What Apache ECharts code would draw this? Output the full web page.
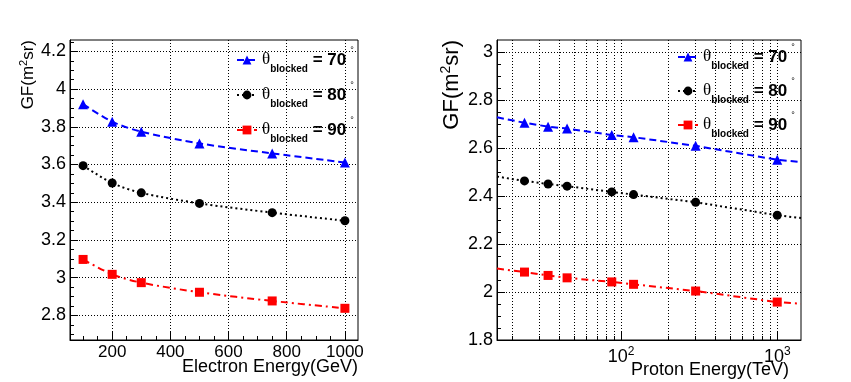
<!DOCTYPE html>
<html>
<head>
<meta charset="utf-8">
<script src="https://cdn.jsdelivr.net/npm/echarts@6/dist/echarts.min.js"></script>
<style>
  html, body { margin: 0; padding: 0; background: #fff; }
  #chart { width: 851px; height: 382px; }
</style>
</head>
<body>
<div id="chart"></div>
<script>
// ---- data ----
var blockNames = ['70', '80', '90'];

var electronEnergy = [100, 200, 300, 500, 750, 1000];
var electron70 = [3.92, 3.827, 3.774, 3.712, 3.659, 3.611];
var electron80 = [3.594, 3.502, 3.45, 3.394, 3.345, 3.302];
var electron90 = [3.097, 3.018, 2.974, 2.923, 2.877, 2.838];

var protonEnergy = [24, 34, 45, 87, 120, 300, 1000];
var proton70 = [2.705, 2.689, 2.681, 2.654, 2.645, 2.609, 2.551];
var proton80 = [2.463, 2.45, 2.441, 2.417, 2.406, 2.374, 2.32];
var proton90 = [2.083, 2.069, 2.059, 2.042, 2.032, 2.004, 1.958];
// fit lines run on to the frame edges
var protonFitX = [16, 1420];
var proton70Ends = [2.728, 2.541];
var proton80Ends = [2.481, 2.308];
var proton90Ends = [2.098, 1.951];

// ---- ticks ----
var elecXMajor = [200, 400, 600, 800, 1000];
var elecXMinor = [100, 150, 250, 300, 350, 450, 500, 550, 650, 700, 750, 850, 900, 950];
var elecYMajor = [2.8, 3, 3.2, 3.4, 3.6, 3.8, 4, 4.2];
var elecYMinor = [2.7, 2.75, 2.85, 2.9, 2.95, 3.05, 3.1, 3.15, 3.25, 3.3, 3.35, 3.45, 3.5, 3.55,
                  3.65, 3.7, 3.75, 3.85, 3.9, 3.95, 4.05, 4.1, 4.15, 4.25];
var protXMajor = [100, 1000];
var protXAll = [20, 30, 40, 50, 60, 70, 80, 90, 100, 200, 300, 400, 500, 600, 700, 800, 900, 1000];
var protYMajor = [1.8, 2, 2.2, 2.4, 2.6, 2.8, 3];
var protYMinor = [1.85, 1.9, 1.95, 2.05, 2.1, 2.15, 2.25, 2.3, 2.35, 2.45, 2.5, 2.55,
                  2.65, 2.7, 2.75, 2.85, 2.9, 2.95];

var FONT = 'Liberation Sans';
var colors = ['#0000ff', '#000000', '#ff0000'];
var symbols = ['triangle', 'circle', 'rect'];
var dashes = [[7, 4], [2, 3], [7, 4, 2, 4]];

var chart = echarts.init(document.getElementById('chart'));

function pairs(xs, ys) {
  return xs.map(function (x, i) { return [x, ys[i]]; });
}
function withEnds(xs, ys, ends) {
  var d = pairs(xs, ys);
  d.unshift({ value: [protonFitX[0], ends[0]], symbol: 'none' });
  d.push({ value: [protonFitX[1], ends[1]], symbol: 'none' });
  return d;
}
function plain(v) { return String(v); }

var dotted = { show: true, lineStyle: { color: '#000', width: 1, type: [1, 2] } };
var blackLine = { show: true, lineStyle: { color: '#000', width: 1 } };

function label(size, ticks) {
  return { color: '#000', fontFamily: FONT, fontSize: size, margin: 4, customValues: ticks, formatter: plain };
}
function tick(len, ticks) {
  return { inside: true, length: len, lineStyle: { color: '#000' }, customValues: ticks };
}
function majorAxis(extra) {
  return Object.assign({ axisLine: blackLine, splitLine: dotted }, extra);
}
function minorAxis(extra) {
  return Object.assign({
    axisLine: { show: false },
    splitLine: { show: false },
    axisLabel: { show: false }
  }, extra);
}

var legendRich = {
  t: { fontFamily: 'Liberation Serif', fontSize: 17, color: '#000', lineHeight: 28 },
  s: { fontFamily: FONT, fontWeight: 'bold', fontSize: 10, color: '#000', verticalAlign: 'bottom', lineHeight: 28 },
  e: { fontFamily: FONT, fontWeight: 'bold', fontSize: 17, color: '#000', lineHeight: 28 },
  d: { fontFamily: FONT, fontSize: 9, color: '#000', verticalAlign: 'top', lineHeight: 28, padding: [0, 0, 0, 4] }
};
function legendText(name) {
  return '{t|θ}{s|blocked}{e| = ' + name + '}{d|°}';
}

var seriesList = [];
[electron70, electron80, electron90].forEach(function (ys, i) {
  seriesList.push({
    name: blockNames[i], type: 'line', xAxisIndex: 0, yAxisIndex: 0,
    data: pairs(electronEnergy, ys), smooth: 0.3,
    symbol: symbols[i], symbolSize: i === 0 ? 10 : 9,
    itemStyle: { color: colors[i] },
    lineStyle: { color: colors[i], width: 2, type: dashes[i] }
  });
});
[[proton70, proton70Ends], [proton80, proton80Ends], [proton90, proton90Ends]].forEach(function (p, i) {
  seriesList.push({
    name: blockNames[i], type: 'line', xAxisIndex: 2, yAxisIndex: 2,
    data: withEnds(protonEnergy, p[0], p[1]),
    symbol: symbols[i], symbolSize: i === 0 ? 10 : 9,
    itemStyle: { color: colors[i] },
    lineStyle: { color: colors[i], width: 2, type: dashes[i] }
  });
});

chart.setOption({
  animation: false,
  backgroundColor: '#fff',
  grid: [
    { left: 70, top: 40, width: 288, height: 300, show: true, borderColor: '#000', borderWidth: 1, containLabel: false },
    { left: 497, top: 40, width: 304, height: 300, show: true, borderColor: '#000', borderWidth: 1, containLabel: false }
  ],
  xAxis: [
    majorAxis({
      type: 'value', gridIndex: 0, position: 'bottom', min: 55, max: 1045,
      axisTick: tick(8, elecXMajor),
      axisLabel: label(17, elecXMajor)
    }),
    minorAxis({
      type: 'value', gridIndex: 0, position: 'bottom', min: 55, max: 1045,
      axisTick: tick(4, elecXMinor)
    }),
    majorAxis({
      type: 'log', logBase: 10, gridIndex: 1, position: 'bottom', min: protonFitX[0], max: protonFitX[1],
      axisTick: tick(4, protXAll),
      axisLabel: {
        color: '#000', fontFamily: FONT, margin: 6, customValues: protXMajor,
        formatter: function (v) { return '{b|10}{p|' + Math.round(Math.log10(v)) + '}'; },
        rich: {
          b: { fontFamily: FONT, fontSize: 18, color: '#000', lineHeight: 22 },
          p: { fontFamily: FONT, fontSize: 12, color: '#000', verticalAlign: 'top', lineHeight: 22 }
        }
      }
    }),
    minorAxis({
      type: 'log', logBase: 10, gridIndex: 1, position: 'bottom', min: protonFitX[0], max: protonFitX[1],
      axisTick: tick(8, protXMajor)
    })
  ],
  yAxis: [
    majorAxis({
      type: 'value', gridIndex: 0, position: 'left', min: 2.67, max: 4.26,
      axisTick: tick(8, elecYMajor),
      axisLabel: label(18, elecYMajor)
    }),
    minorAxis({
      type: 'value', gridIndex: 0, position: 'left', min: 2.67, max: 4.26,
      axisTick: tick(4, elecYMinor)
    }),
    majorAxis({
      type: 'value', gridIndex: 1, position: 'left', min: 1.8, max: 3.05,
      axisTick: tick(8, protYMajor),
      axisLabel: label(18, protYMajor)
    }),
    minorAxis({
      type: 'value', gridIndex: 1, position: 'left', min: 1.8, max: 3.05,
      axisTick: tick(4, protYMinor)
    })
  ],
  legend: [
    {
      data: blockNames, orient: 'vertical', left: 236, top: 46, padding: 0,
      itemWidth: 20, itemHeight: 11, itemGap: 7, selectedMode: false,
      formatter: legendText, textStyle: { rich: legendRich }
    },
    {
      data: blockNames, orient: 'vertical', left: 677, top: 43, padding: 0,
      itemWidth: 20, itemHeight: 11, itemGap: 6, selectedMode: false,
      formatter: legendText, textStyle: { rich: legendRich }
    }
  ],
  graphic: [
    {
      type: 'text', x: 358, y: 367,
      style: { text: 'Electron Energy(GeV)', fontFamily: FONT, fontSize: 18, fill: '#000', align: 'right', verticalAlign: 'middle' }
    },
    {
      type: 'text', x: 789, y: 370,
      style: { text: 'Proton Energy(TeV)', fontFamily: FONT, fontSize: 18, fill: '#000', align: 'right', verticalAlign: 'middle' }
    },
    {
      type: 'text', x: 28, y: 40, rotation: Math.PI / 2,
      style: {
        text: '{a|GF(m}{s|2}{a|sr)}', align: 'right', verticalAlign: 'middle',
        rich: {
          a: { fontFamily: FONT, fontSize: 17, fill: '#000', lineHeight: 20 },
          s: { fontFamily: FONT, fontSize: 11, fill: '#000', verticalAlign: 'top', lineHeight: 20 }
        }
      }
    },
    {
      type: 'text', x: 452, y: 40, rotation: Math.PI / 2,
      style: {
        text: '{a|GF(m}{s|2}{a|sr)}', align: 'right', verticalAlign: 'middle',
        rich: {
          a: { fontFamily: FONT, fontSize: 22, fill: '#000', lineHeight: 26 },
          s: { fontFamily: FONT, fontSize: 14, fill: '#000', verticalAlign: 'top', lineHeight: 26 }
        }
      }
    }
  ],
  series: seriesList
});
</script>
</body>
</html>
